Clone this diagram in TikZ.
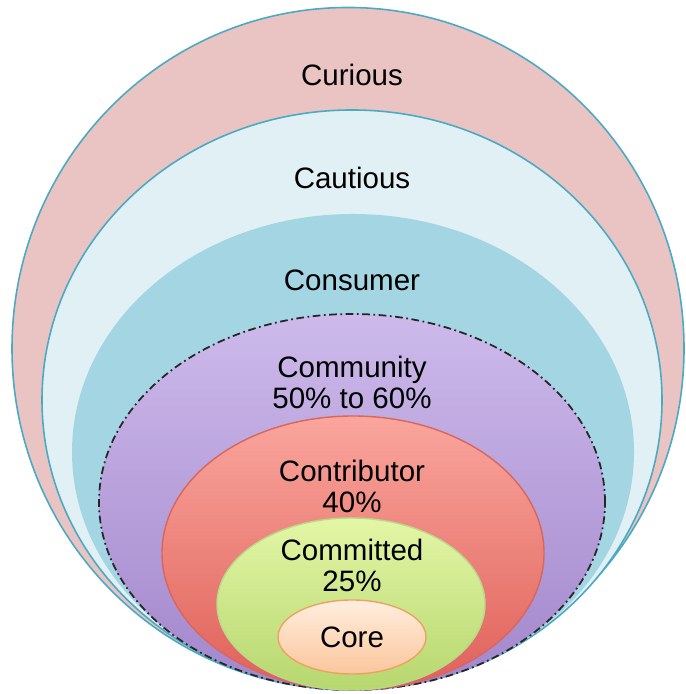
\documentclass[tikz,border=0pt]{standalone}
\usepackage{fontspec}
\setmainfont{Liberation Sans}

\definecolor{ringline}{HTML}{4AAAC4}
\definecolor{curiousfill}{HTML}{E9C4C3}
\definecolor{cautiousfill}{HTML}{E0F0F5}
\definecolor{consumerfill}{HTML}{A3D5E3}
\definecolor{commtop}{HTML}{CDBAEB}
\definecolor{commbot}{HTML}{A286CB}
\definecolor{contrtop}{HTML}{FAA59D}
\definecolor{contrbot}{HTML}{DF6159}
\definecolor{contrline}{HTML}{D9665C}
\definecolor{commitop}{HTML}{E3F6A6}
\definecolor{commibot}{HTML}{B6D76E}
\definecolor{commiline}{HTML}{B9D98A}
\definecolor{coretop}{HTML}{FFEEDF}
\definecolor{corebot}{HTML}{FBC69C}
\definecolor{coreline}{HTML}{EFA164}

\begin{document}
\begin{tikzpicture}[ring/.style={draw=ringline,line width=0.45pt},
    lbl/.style={align=center,font=\fontsize{8.4}{8.8}\selectfont}]
  \useasboundingbox (0,0) rectangle (6.85,6.94);

  \draw[ring,fill=curiousfill]  (3.48,3.455) ellipse (3.36 and 3.41);
  \draw[ring,fill=cautiousfill] (3.52,2.94)  ellipse (3.10 and 2.90);
  \fill[consumerfill]           (3.53,2.42)  ellipse (2.81 and 2.38);
  \draw[black!85,line width=0.5pt,top color=commtop,bottom color=commbot,
        dash pattern=on 2.2pt off 1pt on 0.5pt off 1pt] (3.52,1.92) ellipse (2.53 and 1.88);
  \draw[contrline,line width=0.4pt,top color=contrtop,bottom color=contrbot]  (3.53,1.41) ellipse (1.91 and 1.37);
  \draw[commiline,line width=0.4pt,top color=commitop,bottom color=commibot] (3.51,0.90) ellipse (1.34 and 0.86);
  \draw[coreline,line width=0.4pt,top color=coretop,bottom color=corebot]    (3.52,0.57) ellipse (0.74 and 0.37);

  \node[lbl] (curious)   at (3.52,6.19)  {Curious};
  \node[lbl] (cautious)  at (3.52,5.16)  {Cautious};
  \node[lbl] (consumer)  at (3.52,4.14)  {Consumer};
  \node[lbl] (community) at (3.52,3.115) {Community\\50\% to 60\%};
  \node[lbl] (contrib)   at (3.52,2.08)  {Contributor\\40\%};
  \node[lbl] (committed) at (3.52,1.29)  {Committed\\25\%};
  \node[lbl] (core)      at (3.52,0.57)  {Core};
\end{tikzpicture}
\end{document}
